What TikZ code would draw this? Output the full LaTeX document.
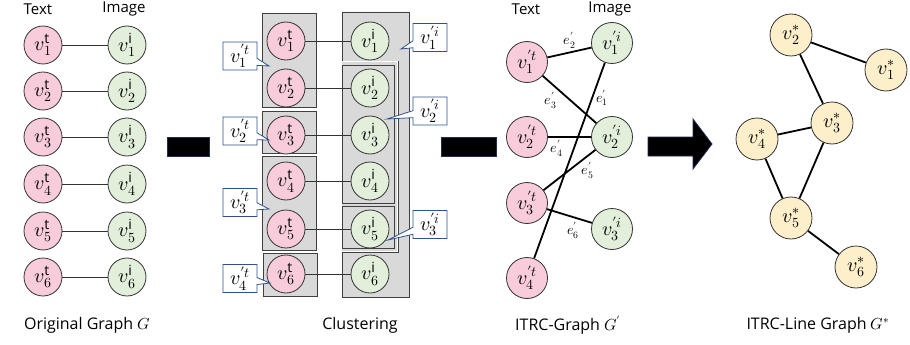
\documentclass[tikz,border=0pt]{standalone}
\usepackage{fontspec}
\usepackage{unicode-math}
\setmainfont{Open Sans}
\setmathfont{Latin Modern Math}
\usetikzlibrary{shapes.callouts}
\definecolor{pinkc}{HTML}{F8CCDB}
\definecolor{greenc}{HTML}{E2EFDA}
\definecolor{yelc}{HTML}{FCEFC9}
\definecolor{boxg}{HTML}{D9D9D9}
\definecolor{callb}{HTML}{2F528F}
\definecolor{navy}{HTML}{1F2D4F}
\newcommand\cfont{\fontsize{20}{20}\selectfont}
\newcommand\lfont{\fontsize{15}{15}\selectfont}
\newcommand\tfont{\fontsize{16}{16}\selectfont}
\newcommand\efont{\fontsize{14}{14}\selectfont}
\tikzset{
  vbase/.style={circle, draw=black!80, line width=0.8pt, minimum size=38pt, inner sep=0pt, font=\cfont},
  vt/.style={vbase, fill=pinkc},
  vi/.style={vbase, fill=greenc},
  vtb/.style={vt, minimum size=41pt},
  vib/.style={vi, minimum size=41pt},
  vs/.style={vbase, fill=yelc, minimum size=42pt},
  thin edge/.style={draw=black!80, line width=0.8pt},
  thick edge/.style={draw=black, line width=1.8pt},
  clbox/.style={draw=black!75, fill=boxg, line width=0.8pt},
  callbox/.style={rectangle callout, draw=callb, fill=white, line width=0.8pt,
    minimum width=34pt, minimum height=28pt, inner sep=1pt, font=\cfont,
    callout pointer width=7pt},
  hdr/.style={font=\lfont},
  ttl/.style={font=\tfont},
  elab/.style={font=\efont, inner sep=1pt},
  blk/.style={fill=black, draw=navy, line width=0.8pt}
}
\begin{document}
\begin{tikzpicture}[x=1pt, y=-1pt]
\useasboundingbox (0,0) rectangle (910,345);

% ---------- Panel 1 ----------
\node[hdr] (h1t) at (38,9) {Text};
\node[hdr] (h1i) at (124,9) {Image};
\foreach \k/\y in {1/45,2/91,3/137,4/184,5/231,6/277}{
  \node[vt] (a\k) at (43,\y) {$v^{\mathrm{t}}_{\k}$};
  \node[vi] (b\k) at (127,\y) {$v^{\mathrm{i}}_{\k}$};
  \draw[thin edge] (a\k) -- (b\k);
}
\node[ttl] (t1) at (87,325) {Original Graph $G$};

% arrow 1
\draw[blk] (167,137) rectangle (209,156);

% ---------- Panel 2 ----------
\draw[clbox] (262,13) rectangle (316,107);
\draw[clbox] (262,111) rectangle (316,153);
\draw[clbox] (262,156) rectangle (316,250);
\draw[clbox] (263,253) rectangle (317,296);
\draw[clbox] (342,12) -- (409,12) -- (409,297) -- (342,297) -- (342,252) -- (398,252) -- (398,61) -- (342,61) -- cycle;
\fill[boxg] (342.4,61.4) rectangle (397.6,251.6);
\draw[white, line width=1pt] (342.4,62) -- (397,62) -- (397,251) -- (342.4,251);
\draw[clbox] (342,65) rectangle (394,203);
\draw[clbox] (342,206) rectangle (394,248);
\foreach \k/\y in {1/41,2/88,3/135,4/181,5/229,6/274}{
  \node[vt] (c\k) at (286,\y) {$v^{\mathrm{t}}_{\k}$};
  \node[vi] (d\k) at (370,\y) {$v^{\mathrm{i}}_{\k}$};
  \draw[thin edge] (c\k) -- (d\k);
}
\node[callbox, callout absolute pointer={(269,66)}] (ct1) at (240,56) {$v'^{t}_{1}$};
\node[callbox, callout absolute pointer={(269,140)}] (ct2) at (240,131) {$v'^{t}_{2}$};
\node[callbox, callout absolute pointer={(269,209)}] (ct3) at (240,202.5) {$v'^{t}_{3}$};
\node[callbox, callout absolute pointer={(270,283)}] (ct4) at (240,278.5) {$v'^{t}_{4}$};
\node[callbox, callout absolute pointer={(401,49)}] (ci1) at (430,37.5) {$v'^{i}_{1}$};
\node[callbox, callout absolute pointer={(387,119)}] (ci2) at (430,111) {$v'^{i}_{2}$};
\node[callbox, callout absolute pointer={(388,240)}] (ci3) at (430,224.5) {$v'^{i}_{3}$};
\node[ttl] (t2) at (360,325) {Clustering};

% arrow 2
\draw[blk] (441,137) rectangle (496,156);

% ---------- Panel 3 ----------
\node[hdr] (h3t) at (526,9) {Text};
\node[hdr] (h3i) at (610,9) {Image};
\node[vtb] (p1) at (527,62) {$v'^{t}_{1}$};
\node[vtb] (p2) at (527,137) {$v'^{t}_{2}$};
\node[vtb] (p3) at (527,203) {$v'^{t}_{3}$};
\node[vtb] (p4) at (527,278) {$v'^{t}_{4}$};
\node[vib] (q1) at (612,43) {$v'^{i}_{1}$};
\node[vib] (q2) at (612,137) {$v'^{i}_{2}$};
\node[vib] (q3) at (612,229) {$v'^{i}_{3}$};
\draw[thick edge] (p4) -- (q1) node[elab, pos=0.82, right=2pt] (e1) {$e'_1$};
\draw[thick edge] (p1) -- (q1) node[elab, midway, above=2pt] (e2) {$e'_2$};
\draw[thick edge] (p1) -- (q2) node[elab, pos=0.3, below left=0pt] (e3) {$e'_3$};
\draw[thick edge] (p2) -- (q2) node[elab, pos=0.2, below=1pt] (e4) {$e'_4$};
\draw[thick edge] (p3) -- (q2) node[elab, pos=0.72, below right=-1pt] (e5) {$e'_5$};
\draw[thick edge] (p3) -- (q3) node[elab, pos=0.58, below=3pt] (e6) {$e'_6$};
\node[ttl] (t3) at (568,325) {ITRC-Graph $G'$};

% arrow 3
\draw[blk] (648,137) -- (693,137) -- (693,119) -- (712,144) -- (693,169) -- (693,156) -- (648,156) -- cycle;

% ---------- Panel 4 ----------
\node[vs] (s2) at (791,35) {$v^{*}_{2}$};
\node[vs] (s1) at (886,70) {$v^{*}_{1}$};
\node[vs] (s3) at (832,123) {$v^{*}_{3}$};
\node[vs] (s4) at (757,139) {$v^{*}_{4}$};
\node[vs] (s5) at (791,218) {$v^{*}_{5}$};
\node[vs] (s6) at (856,267) {$v^{*}_{6}$};
\draw[thick edge] (s2) -- (s1);
\draw[thick edge] (s2) -- (s3);
\draw[thick edge] (s3) -- (s4);
\draw[thick edge] (s3) -- (s5);
\draw[thick edge] (s4) -- (s5);
\draw[thick edge] (s5) -- (s6);
\node[ttl] (t4) at (818,325) {ITRC-Line Graph $G^{*}$};
\end{tikzpicture}
\end{document}
